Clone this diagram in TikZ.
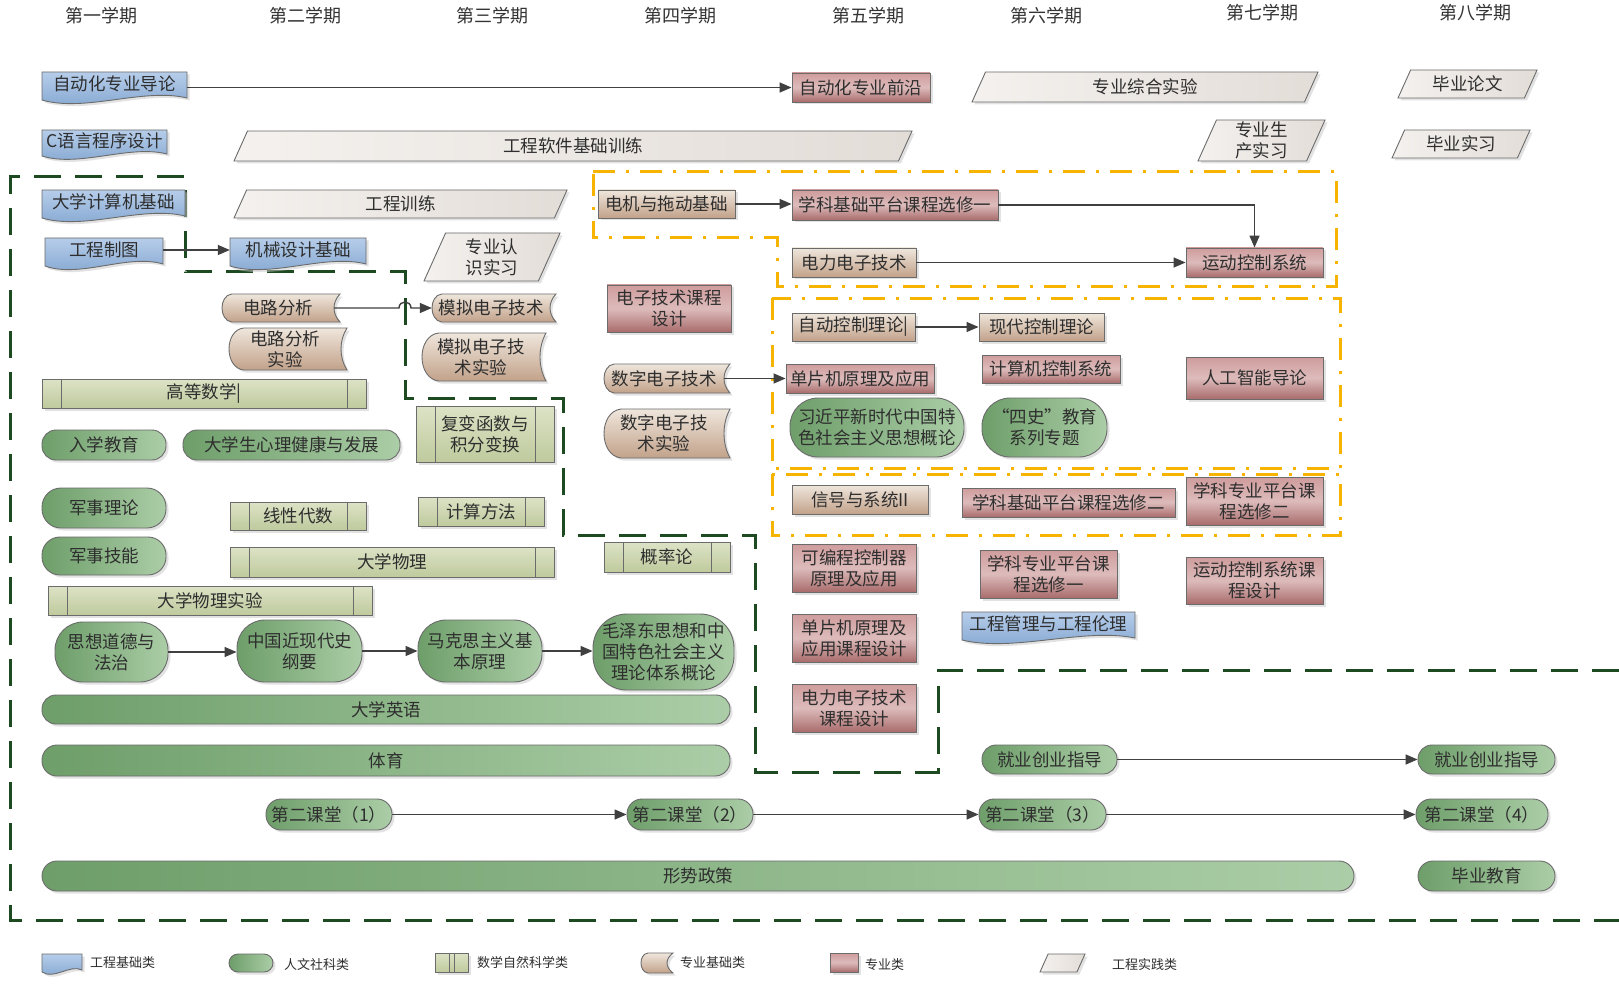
\documentclass[tikz,border=0pt]{standalone}
\usepackage{fontspec}
\setmainfont{Noto Sans CJK SC}
\usetikzlibrary{arrows.meta,calc,shadows}
\definecolor{txt}{HTML}{2E2E2E}
\definecolor{bord}{HTML}{6B6B6B}
\definecolor{arrc}{HTML}{404040}
\definecolor{blueT}{HTML}{B6CDEA}
\definecolor{blueB}{HTML}{7FA3CE}
\definecolor{greenT}{HTML}{ABCDA7}
\definecolor{greenB}{HTML}{6E9E6A}
\definecolor{khakiT}{HTML}{DCE3C6}
\definecolor{khakiB}{HTML}{BFCA9D}
\definecolor{tanT}{HTML}{EFE6DC}
\definecolor{tanB}{HTML}{C2A28A}
\definecolor{redT}{HTML}{CF9C9C}
\definecolor{redM}{HTML}{DDBBBB}
\definecolor{redB}{HTML}{A96C6C}
\definecolor{paraL}{HTML}{F4F1EE}
\definecolor{paraR}{HTML}{E3DDD8}
\definecolor{dgreen}{HTML}{1E4A22}
\definecolor{yel}{HTML}{F6B400}
% rectangle-like node from corner coordinates
\newcommand\bx[7]{\node[#1, minimum width={#4-#2}, minimum height={#5-#3}] (#6) at ({(#2+#4)/2},{(#3+#5)/2}) {#7};}
% blue document shape
\newcommand\docn[6]{%
  \shade[sh, draw=bord, line width=0.9pt, top color=blueT, bottom color=blueB]
    (#2,#3) -- (#4,#3) -- (#4,{#5-2}) .. controls ({#2+0.7*(#4-#2)},{#5-0.45*(#5-#3)}) and ({#2+0.3*(#4-#2)},{#5+0.45*(#5-#3)}) .. (#2,#5) -- cycle;
  \node[lbl, minimum width={#4-#2}, minimum height={#5-#3-4}] (#1) at ({(#2+#4)/2},{(#3+#5)/2-2}) {#6};}
% tan stored-data shape
\newcommand\sdn[6]{%
  \shade[sh, draw=bord, line width=0.9pt, top color=tanT, bottom color=tanB]
    ({#2+0.35*(#5-#3)},#3) -- (#4,#3) .. controls ({#4-8},{#3+0.3*(#5-#3)}) and ({#4-8},{#5-0.3*(#5-#3)}) .. (#4,#5)
    -- ({#2+0.35*(#5-#3)},#5) .. controls ({#2-0.35*(#5-#3)/3},{#5-0.05*(#5-#3)}) and ({#2-0.35*(#5-#3)/3},{#3+0.05*(#5-#3)}) .. ({#2+0.35*(#5-#3)},#3) -- cycle;
  \node[lbl, minimum width={#4-#2-6}, minimum height={#5-#3}] (#1) at ({(#2+#4-6)/2},{(#3+#5)/2}) {#6};}
% parallelogram
\newcommand\parn[6]{%
  \shade[sh, draw=bord, line width=0.9pt, left color=paraL, right color=paraR]
    ({#2+0.45*(#5-#3)},#3) -- (#4,#3) -- ({#4-0.45*(#5-#3)},#5) -- (#2,#5) -- cycle;
  \node[lbl, minimum width={#4-#2-0.45*(#5-#3)}, minimum height={#5-#3}] (#1) at ({(#2+#4)/2},{(#3+#5)/2}) {#6};}
\begin{document}
\begin{tikzpicture}[x=1pt,y=-1pt,
  lbl/.style={inner sep=0pt, align=center, text=txt, font=\fontsize{17.5}{21}\selectfont},
  sh/.style={drop shadow={shadow xshift=2.5pt, shadow yshift=-2.5pt, fill=black!22}},
  boxbase/.style={lbl, rectangle, draw=bord, line width=0.9pt, sh},
  redbox/.style={boxbase, top color=redT, bottom color=redB, middle color=redM},
  tanbox/.style={boxbase, top color=tanT, bottom color=tanB},
  pillbox/.style={boxbase, rounded corners=#1, left color=greenB, right color=greenT},
  pillbox/.default=14pt,
  khbox/.style={boxbase, top color=khakiT, bottom color=khakiB,
    path picture={\draw[bord, line width=0.8pt]
      ([xshift=19pt]path picture bounding box.north west) -- ([xshift=19pt]path picture bounding box.south west)
      ([xshift=-19pt]path picture bounding box.north east) -- ([xshift=-19pt]path picture bounding box.south east);}},
  arr/.style={draw=arrc, line width=1.4pt, -{Triangle[length=12pt,width=10pt]}},
  gdash/.style={draw=dgreen, line width=3pt, dash pattern=on 27pt off 14pt},
  ydash/.style={draw=yel, line width=3pt, dash pattern=on 22pt off 11pt on 3pt off 11pt},
  hdr/.style={lbl, text=black!80, font=\fontsize{18}{21}\selectfont},
  legt/.style={lbl, anchor=west, font=\fontsize{13}{15}\selectfont},
]
\useasboundingbox[fill=white] (0,0) rectangle (1619,1008);

% semester headers
\node[hdr] (h1) at (101,16) {第一学期};
\node[hdr] (h2) at (305,16) {第二学期};
\node[hdr] (h3) at (492,16) {第三学期};
\node[hdr] (h4) at (680,16) {第四学期};
\node[hdr] (h5) at (868,16) {第五学期};
\node[hdr] (h6) at (1046,16) {第六学期};
\node[hdr] (h7) at (1262,13) {第七学期};
\node[hdr] (h8) at (1475,13) {第八学期};

% group boundaries
\draw[gdash] (1619,670) -- (938,670) -- (938,772) -- (755,772) -- (755,535) -- (563,535) -- (563,398)
  -- (405,398) -- (405,272) -- (185,272) -- (185,177) -- (10,177) -- (10,920) -- (1619,920);
\draw[ydash] (593,172) -- (1336,172) -- (1336,287) -- (777,287) -- (777,238) -- (593,238) -- cycle;
\draw[ydash] (772,298) rectangle (1340,468);
\draw[ydash] (772,474) rectangle (1340,535);

% engineering foundation (blue documents)
\docn{zdhdl}{42}{72}{187}{100}{自动化专业导论}
\docn{cyy}{42}{130}{167}{156}{C语言程序设计}
\docn{dxjsj}{42}{190}{185}{218}{大学计算机基础}
\docn{gczt}{45}{238}{163}{266}{工程制图}
\docn{jxsj}{230}{238}{366}{266}{机械设计基础}
\docn{gcgl}{962}{612}{1135}{640}{工程管理与工程伦理}

% engineering practice (parallelograms)
\parn{zyzh}{972}{72}{1318}{102}{专业综合实验}
\parn{bylw}{1398}{70}{1537}{98}{毕业论文}
\parn{gcrj}{234}{131}{912}{161}{工程软件基础训练}
\parn{zysc}{1198}{120}{1325}{161}{专业生\\产实习}
\parn{bysx}{1392}{130}{1530}{158}{毕业实习}
\parn{gcxl}{234}{190}{567}{218}{工程训练}
\parn{zyrs}{424}{233}{560}{281}{专业认\\识实习}

% professional courses (red)
\bx{redbox}{792}{73}{930}{102}{zdhqy}{自动化专业前沿}
\bx{redbox}{792}{190}{998}{220}{xkjc1}{学科基础平台课程选修一}
\bx{redbox}{1186}{248}{1323}{277}{ydkz}{运动控制系统}
\bx{redbox}{607}{285}{731}{332}{dzkcsj}{电子技术课程\\设计}
\bx{redbox}{786}{364}{934}{393}{dpj}{单片机原理及应用}
\bx{redbox}{982}{355}{1120}{383}{jsjkz}{计算机控制系统}
\bx{redbox}{1186}{357}{1323}{399}{rgzn}{人工智能导论}
\bx{redbox}{962}{488}{1175}{517}{xkjc2}{学科基础平台课程选修二}
\bx{redbox}{1186}{477}{1323}{525}{xkzy2}{学科专业平台课\\程选修二}
\bx{redbox}{792}{544}{916}{592}{plc}{可编程控制器\\原理及应用}
\bx{redbox}{980}{550}{1117}{598}{xkzy1}{学科专业平台课\\程选修一}
\bx{redbox}{1186}{557}{1323}{604}{ydkzsj}{运动控制系统课\\程设计}
\bx{redbox}{792}{614}{916}{662}{dpjsj}{单片机原理及\\应用课程设计}
\bx{redbox}{792}{684}{916}{732}{dlsj}{电力电子技术\\课程设计}

% professional foundation (tan)
\bx{tanbox}{598}{190}{735}{218}{djtd}{电机与拖动基础}
\bx{tanbox}{792}{248}{916}{277}{dldz}{电力电子技术}
\bx{tanbox}{792}{313}{915}{341}{zdkz}{自动控制理论|}
\bx{tanbox}{979}{313}{1104}{341}{xdkz}{现代控制理论}
\bx{tanbox}{792}{485}{928}{514}{xhxt}{信号与系统II}
\sdn{dlfx}{222}{294}{340}{322}{电路分析}
\sdn{dlsy}{229}{328}{347}{370}{电路分析\\实验}
\sdn{mndz}{432}{294}{556}{322}{模拟电子技术}
\sdn{mnsy}{422}{333}{546}{381}{模拟电子技\\术实验}
\sdn{szdz}{604}{364}{730}{393}{数字电子技术}
\sdn{szsy}{604}{409}{730}{458}{数字电子技\\术实验}

% mathematics and natural science (khaki)
\bx{khbox}{42}{379}{366}{408}{gdsx}{高等数学|}
\bx{khbox}{416}{406}{554}{462}{fbhs}{复变函数与\\积分变换}
\bx{khbox}{230}{502}{366}{530}{xxds}{线性代数}
\bx{khbox}{418}{497}{544}{526}{jsff}{计算方法}
\bx{khbox}{230}{547}{554}{577}{dxwl}{大学物理}
\bx{khbox}{604}{542}{730}{572}{gll}{概率论}
\bx{khbox}{48}{586}{372}{615}{dxwlsy}{大学物理实验}

% humanities (green)
\bx{pillbox=28pt}{790}{398}{964}{457}{xjp}{习近平新时代中国特\\色社会主义思想概论}
\bx{pillbox=28pt}{982}{398}{1107}{457}{ss}{“四史”教育\\系列专题}
\bx{pillbox}{42}{430}{166}{460}{rxjy}{入学教育}
\bx{pillbox}{183}{430}{400}{460}{xljk}{大学生心理健康与发展}
\bx{pillbox=19pt}{42}{488}{166}{528}{jsll}{军事理论}
\bx{pillbox=18pt}{42}{537}{166}{575}{jsjn}{军事技能}
\bx{pillbox=28pt}{55}{622}{168}{682}{sxdd}{思想道德与\\法治}
\bx{pillbox=28pt}{237}{620}{362}{682}{zgjx}{中国近现代史\\纲要}
\bx{pillbox=28pt}{418}{620}{542}{682}{mks}{马克思主义基\\本原理}
\bx{pillbox=34pt}{593}{614}{734}{690}{mzd}{毛泽东思想和中\\国特色社会主义\\理论体系概论}
\bx{pillbox}{42}{695}{730}{724}{dxyy}{大学英语}
\bx{pillbox=15pt}{42}{745}{730}{776}{ty}{体育}
\bx{pillbox}{982}{745}{1117}{774}{jycy1}{就业创业指导}
\bx{pillbox}{1418}{745}{1555}{774}{jycy2}{就业创业指导}
\bx{pillbox=15pt}{266}{799}{392}{830}{dekt1}{第二课堂（1）}
\bx{pillbox=15pt}{627}{799}{753}{830}{dekt2}{第二课堂（2）}
\bx{pillbox=15pt}{979}{799}{1106}{830}{dekt3}{第二课堂（3）}
\bx{pillbox=15pt}{1416}{799}{1548}{830}{dekt4}{第二课堂（4）}
\bx{pillbox=15pt}{42}{861}{1354}{891}{xszc}{形势政策}
\bx{pillbox=15pt}{1418}{861}{1555}{891}{byjy}{毕业教育}

% connectors
\draw[arr] (zdhdl.east |- zdhqy.west) -- (zdhqy.west);
\draw[arr] (djtd.east) -- (djtd.east -| xkjc1.west);
\draw[arr] (xkjc1.east) -| (ydkz.north);
\draw[arr] (dldz.east) -- (dldz.east -| ydkz.west);
\draw[arr] (gczt.east) -- (gczt.east -| jxsj.west);
\coordinate (hopA) at (399,308);
\coordinate (hopB) at (411,308);
\draw[arr] (dlfx.east) -- (hopA) .. controls ($(hopA)+(0,-8)$) and ($(hopB)+(0,-8)$) .. (hopB) -- (mndz.west);
\draw[arr] (zdkz.east) -- (zdkz.east -| xdkz.west);
\draw[arr] (szdz.east) -- (szdz.east -| dpj.west);
\draw[arr] (sxdd.east) -- (sxdd.east -| zgjx.west);
\draw[arr] (zgjx.east) -- (zgjx.east -| mks.west);
\draw[arr] (mks.east) -- (mks.east -| mzd.west);
\draw[arr] (jycy1.east) -- (jycy1.east -| jycy2.west);
\draw[arr] (dekt1.east) -- (dekt1.east -| dekt2.west);
\draw[arr] (dekt2.east) -- (dekt2.east -| dekt3.west);
\draw[arr] (dekt3.east) -- (dekt3.east -| dekt4.west);

% legend
\docn{lg1}{42}{954}{82}{972}{}
\node[legt] (lt1) at (90,963) {工程基础类};
\bx{pillbox=9pt}{229}{954}{273}{972}{lg2}{}
\node[legt] (lt2) at (284,965) {人文社科类};
\bx{khbox}{435}{953}{468}{972}{lg3}{}
\node[legt] (lt3) at (477,963) {数学自然科学类};
\sdn{lg4}{641}{953}{673}{973}{}
\node[legt] (lt4) at (680,963) {专业基础类};
\bx{redbox}{830}{953}{858}{972}{lg5}{}
\node[legt] (lt5) at (865,965) {专业类};
\parn{lg6}{1040}{954}{1085}{972}{}
\node[legt] (lt6) at (1112,965) {工程实践类};
\end{tikzpicture}
\end{document}
